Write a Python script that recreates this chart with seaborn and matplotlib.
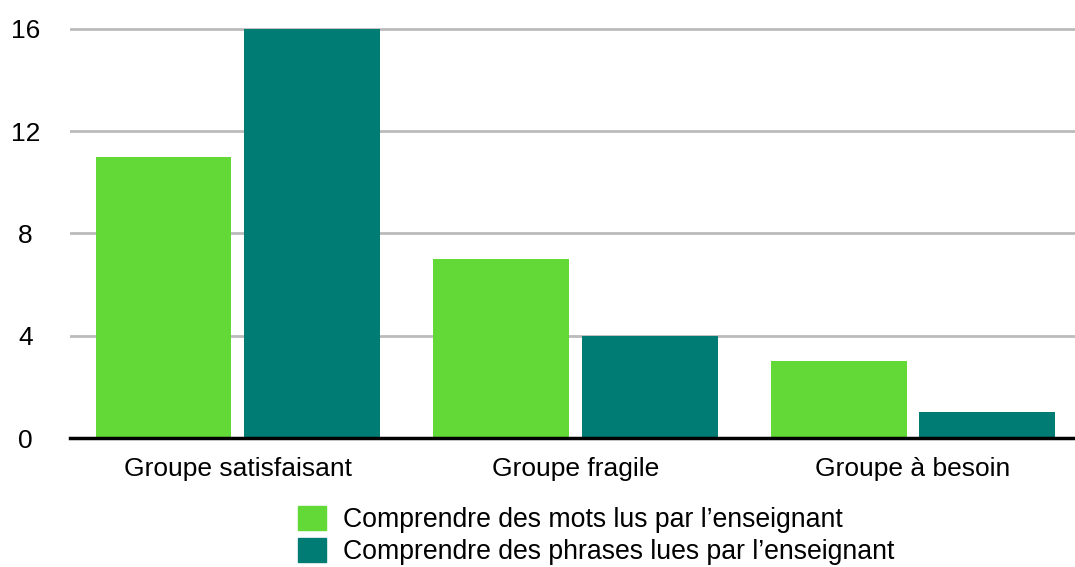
import numpy as np
import pandas as pd
import seaborn as sns
import matplotlib.pyplot as plt

groups = ["Groupe satisfaisant", "Groupe fragile", "Groupe à besoin"]
series = ["Comprendre des mots lus par l\u2019enseignant",
          "Comprendre des phrases lues par l\u2019enseignant"]
mots = [11, 7, 3]
phrases = [16, 4, 1]
colors = ["#62D936", "#007C74"]

df = pd.DataFrame({
    "groupe": groups * 2,
    "serie": [series[0]] * 3 + [series[1]] * 3,
    "valeur": mots + phrases,
})

sns.set_theme(style="white")
plt.rcParams['font.family'] = ['Liberation Sans', 'DejaVu Sans']
plt.rcParams['text.color'] = 'black'

fig = plt.figure(figsize=(10.75, 5.67), dpi=100)
ax = fig.add_axes([70 / 1075, 1 - 438 / 567, 1 - 70 / 1075, 411.6 / 567])

sns.barplot(data=df, x="groupe", y="valeur", hue="serie", palette=colors,
            width=0.88, gap=0.085, saturation=1, linewidth=0, ax=ax, legend=False)

ax.set_ylim(0, 16.1)
ax.set_xlim(-0.497, 2.48)
ax.set_yticks([0, 4, 8, 12, 16])
ax.yaxis.grid(True, color="#BBBBBB", linewidth=2)
ax.set_axisbelow(True)
for s in ["left", "right", "top"]:
    ax.spines[s].set_visible(False)
ax.spines["bottom"].set_color("black")
ax.spines["bottom"].set_linewidth(2.5)
ax.spines["bottom"].set_zorder(5)
ax.tick_params(axis="both", length=0, labelsize=19, colors="black")
ax.tick_params(axis="y", pad=32)
ax.tick_params(axis="x", pad=14)
for lbl in ax.get_yticklabels():
    lbl.set_horizontalalignment("center")
ax.set_xlabel("")
ax.set_ylabel("")

handles = [plt.Rectangle((0, 0), 1, 1, color=c) for c in colors]
fig.legend(handles, series, loc="upper left", bbox_to_anchor=(298 / 1075, 1 - 506 / 567),
           frameon=False, fontsize=19.2, borderpad=0, borderaxespad=0,
           handlelength=1.05, handleheight=1.0, handletextpad=0.62, labelspacing=0.2)

fig.savefig("out.png", dpi=100)
